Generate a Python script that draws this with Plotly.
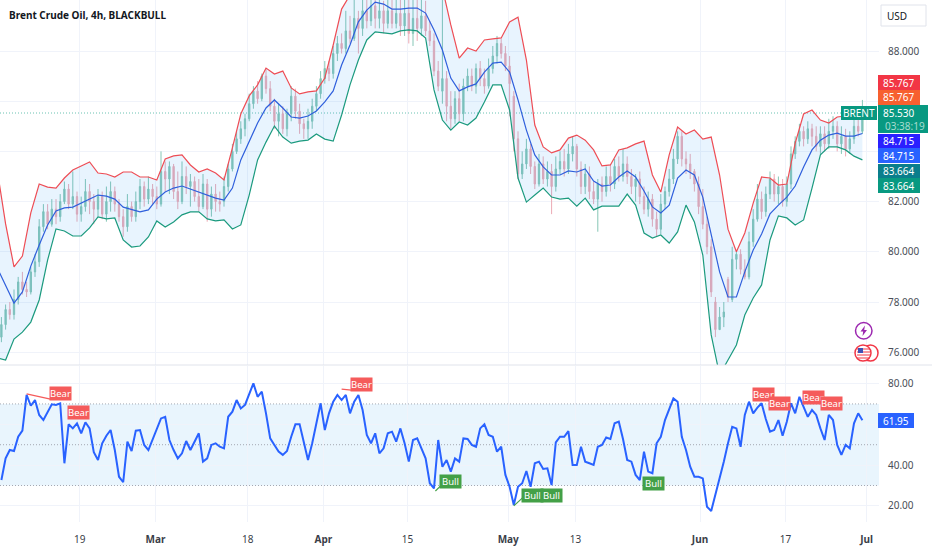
import plotly.graph_objects as go

WIDTH = 932
HEIGHT = 550
PLOT_RIGHT = 879
PANE_BOTTOM = 365
RSI_TOP = 366
RSI_BOTTOM = 522

# x is the 4h bar number, one bar is 1.4 px on the original time scale
candle_bars = list(range(1, 617, 3))
band_bars = list(range(-2, 617, 6))
tick_bars = [57, 111, 177, 231, 291, 363, 411, 500, 561, 619]
tick_labels = ["19", "<b>Mar</b>", "18", "<b>Apr</b>", "15", "<b>May</b>", "13", "<b>Jun</b>", "17", "<b>Jul</b>"]

price_ticks = [76, 78, 80, 82, 84, 86, 88]
price_tick_labels = ["76.000", "78.000", "80.000", "82.000", "", "", "88.000"]
rsi_ticks = [20, 40, 60, 80]
rsi_tick_labels = ["20.00", "40.00", "", "80.00"]

upper = [83.26, 81.11, 79.40, 79.83, 81.55, 82.70, 82.58, 82.54, 82.94, 83.26,
         83.42, 83.58, 83.14, 83.10, 82.98, 83.18, 83.18, 82.98, 82.98, 82.86,
         83.70, 83.82, 83.86, 83.46, 83.18, 83.30, 83.14, 82.86, 84.14, 85.49,
         86.21, 86.65, 87.32, 87.08, 87.20, 86.53, 86.29, 86.37, 86.41, 86.92,
         88.24, 89.67, 90.23, 90.43, 90.59, 90.75, 90.83, 90.83, 90.83, 90.83,
         90.83, 90.75, 90.75, 90.51, 89.04, 87.72, 88.12, 88.00, 88.44, 88.48,
         88.52, 89.16, 89.35, 87.64, 85.05, 84.18, 83.94, 84.06, 84.53, 84.65,
         84.45, 84.06, 83.42, 83.46, 84.06, 84.14, 84.30, 84.41, 83.06, 82.38,
         83.86, 84.97, 84.69, 84.85, 84.49, 84.57, 83.06, 80.90, 80.00, 80.75,
         81.94, 82.98, 82.94, 82.66, 82.70, 84.33, 85.49, 85.65, 85.25, 85.13,
         85.37, 85.41, 85.65, 85.767]
middle = [79.36, 78.64, 77.96, 78.40, 79.43, 80.27, 81.07, 81.63, 81.75, 81.78,
          81.94, 82.10, 82.26, 82.22, 82.10, 81.78, 81.67, 81.59, 81.67, 82.10,
          82.38, 82.54, 82.62, 82.50, 82.38, 82.26, 82.14, 82.06, 82.54, 83.66,
          84.41, 85.13, 85.73, 86.05, 85.73, 85.37, 85.33, 85.41, 85.61, 85.97,
          86.41, 87.44, 88.24, 89.16, 89.63, 89.95, 89.87, 89.67, 89.67, 89.71,
          89.71, 89.51, 88.84, 88.04, 86.92, 86.41, 86.57, 86.69, 87.16, 87.52,
          87.56, 87.16, 86.05, 84.85, 83.86, 83.38, 83.06, 83.06, 83.22, 83.18,
          83.30, 82.82, 82.62, 82.66, 82.98, 83.22, 82.98, 82.42, 81.79, 81.55,
          81.86, 82.94, 83.26, 83.06, 82.18, 80.67, 79.20, 78.20, 78.20, 79.20,
          80.07, 80.71, 81.51, 81.86, 82.18, 82.62, 83.38, 84.06, 84.45, 84.65,
          84.73, 84.61, 84.61, 84.715]
lower = [75.77, 75.69, 76.52, 76.80, 77.20, 78.08, 79.67, 80.91, 80.83, 80.63,
         80.63, 80.95, 81.39, 81.31, 81.35, 80.47, 80.19, 80.23, 80.59, 81.23,
         80.99, 81.19, 81.47, 81.59, 81.59, 81.31, 81.23, 81.27, 80.91, 81.07,
         82.26, 83.66, 84.37, 85.01, 84.57, 84.33, 84.41, 84.45, 84.69, 84.49,
         84.41, 85.45, 86.65, 87.64, 88.44, 88.76, 88.72, 88.68, 88.80, 88.84,
         88.80, 88.52, 86.45, 85.25, 84.85, 85.17, 85.05, 85.33, 85.97, 86.65,
         86.65, 85.65, 82.94, 81.98, 82.26, 82.54, 82.18, 82.10, 82.14, 81.82,
         82.14, 81.67, 81.82, 81.82, 81.82, 82.30, 81.86, 80.75, 80.55, 80.67,
         80.35, 80.79, 81.86, 81.19, 79.87, 76.69, 75.09, 75.69, 76.29, 77.48,
         78.16, 78.68, 80.47, 81.43, 81.35, 81.07, 81.27, 82.54, 83.86, 84.18,
         84.18, 84.06, 83.81, 83.664]

opens = [76.6, 77.1, 77.7, 77.5, 78.1, 78.8, 78.5, 78.4, 79.2, 79.6,
         81.0, 81.6, 81.1, 81.7, 81.4, 82.0, 82.5, 81.9, 82.2, 81.5,
         81.8, 82.4, 82.0, 81.7, 82.2, 81.5, 82.0, 82.4, 81.9, 81.4,
         81.0, 81.8, 81.4, 82.0, 82.6, 82.1, 82.5, 82.2, 81.9, 83.2,
         82.9, 83.4, 82.4, 82.0, 83.0, 82.6, 82.8, 82.2, 81.8, 82.7,
         81.7, 82.3, 82.0, 82.0, 82.6, 83.3, 84.0, 84.5, 84.9, 85.3,
         85.9, 86.4, 86.1, 87.0, 86.5, 85.8, 85.2, 85.5, 84.9, 85.5,
         86.2, 85.6, 85.1, 84.9, 85.2, 85.8, 86.3, 86.9, 87.3, 87.1,
         87.9, 88.3, 88.1, 88.8, 88.5, 89.3, 88.9, 89.6, 89.2, 89.8,
         89.3, 89.6, 89.1, 89.6, 89.1, 89.5, 89.0, 89.5, 88.7, 89.3,
         88.9, 89.4, 88.8, 88.4, 87.2, 86.4, 86.9, 85.8, 85.3, 86.1,
         85.5, 86.6, 87.0, 86.6, 87.3, 86.9, 86.6, 87.3, 87.8, 88.3,
         87.9, 87.4, 86.2, 84.5, 83.1, 83.5, 84.1, 83.4, 82.7, 83.5,
         82.9, 83.2, 82.6, 83.3, 83.6, 83.3, 83.9, 84.2, 83.3, 82.6,
         83.1, 82.4, 82.1, 82.7, 82.4, 83.0, 82.7, 83.4, 83.0, 83.5,
         83.0, 82.6, 82.9, 82.2, 81.7, 82.1, 81.3, 80.9, 81.9, 82.4,
         82.9, 83.7, 84.6, 83.7, 83.5, 83.2, 82.7, 81.8, 81.1, 80.2,
         78.0, 76.9, 77.4, 78.9, 78.1, 79.7, 79.9, 79.3, 79.0, 80.4,
         81.3, 82.1, 81.6, 82.3, 82.9, 82.3, 82.6, 82.0, 82.7, 83.9,
         84.4, 84.8, 84.5, 84.9, 84.6, 84.2, 84.7, 84.3, 84.8, 85.0,
         84.3, 84.6, 84.1, 84.5, 85.0, 84.8]
closes = [77.1, 77.7, 77.5, 78.1, 78.8, 78.5, 78.4, 79.2, 79.6, 81.0,
          81.6, 81.1, 81.7, 81.4, 82.0, 82.5, 81.9, 82.2, 81.5, 81.8,
          82.4, 82.0, 81.7, 82.2, 81.5, 82.0, 82.4, 81.9, 81.4, 81.0,
          81.8, 81.4, 82.0, 82.6, 82.1, 82.5, 82.2, 81.9, 83.2, 82.9,
          83.4, 82.4, 82.0, 83.0, 82.6, 82.8, 82.2, 81.8, 82.7, 81.7,
          82.3, 82.0, 81.9, 82.6, 83.3, 84.0, 84.5, 84.9, 85.3, 85.9,
          86.4, 86.1, 87.0, 86.5, 85.8, 85.2, 85.5, 84.9, 85.5, 86.2,
          85.6, 85.1, 84.9, 85.2, 85.8, 86.3, 86.9, 87.3, 87.1, 87.9,
          88.3, 88.1, 88.8, 88.5, 89.3, 88.9, 89.6, 89.2, 89.8, 89.3,
          89.6, 89.1, 89.6, 89.1, 89.5, 89.0, 89.5, 88.7, 89.3, 88.9,
          89.4, 88.8, 88.4, 87.2, 86.6, 86.9, 85.8, 85.3, 86.1, 85.5,
          86.6, 87.0, 86.6, 87.3, 86.9, 86.6, 87.3, 87.8, 88.3, 87.9,
          87.4, 86.7, 84.5, 83.1, 83.5, 84.1, 83.4, 82.7, 83.5, 82.9,
          83.2, 82.6, 83.3, 83.6, 83.3, 83.9, 84.2, 83.3, 82.6, 83.1,
          82.4, 82.1, 82.7, 82.4, 83.0, 82.7, 83.4, 83.0, 83.5, 83.0,
          82.6, 82.9, 82.2, 81.7, 82.1, 81.3, 80.9, 81.9, 82.4, 82.9,
          83.7, 84.6, 83.7, 83.5, 83.2, 82.7, 81.8, 81.1, 80.2, 78.4,
          76.9, 77.4, 77.6, 78.2, 79.7, 79.9, 79.3, 79.0, 80.4, 81.3,
          82.1, 81.6, 82.3, 82.9, 82.3, 82.6, 82.0, 82.7, 83.9, 84.4,
          84.8, 84.5, 84.9, 84.6, 84.2, 84.7, 84.3, 84.8, 85.0, 84.3,
          84.6, 84.1, 84.5, 85.0, 84.8, 85.53]
highs = [77.4, 77.9, 78.0, 78.5, 79.0, 79.2, 78.8, 79.4, 79.9, 81.3,
         81.9, 81.9, 82.1, 82.1, 82.3, 82.8, 82.7, 83.2, 82.4, 82.2,
         82.9, 82.7, 82.3, 82.5, 82.4, 82.6, 82.8, 82.6, 82.1, 81.7,
         82.3, 82.0, 82.4, 82.9, 82.8, 83.0, 82.7, 82.6, 84.0, 83.6,
         83.6, 83.5, 83.2, 83.6, 83.4, 83.1, 83.0, 82.9, 83.1, 82.9,
         82.6, 82.7, 82.4, 83.0, 83.5, 84.3, 84.8, 85.2, 85.5, 86.3,
         86.6, 86.8, 87.1, 87.3, 86.8, 86.1, 85.9, 85.8, 85.7, 86.6,
         86.5, 85.9, 85.3, 85.7, 86.1, 86.6, 87.2, 87.6, 87.6, 88.2,
         88.6, 88.7, 89.6, 89.4, 90.3, 89.6, 90.3, 90.3, 90.3, 90.2,
         90.2, 90.0, 90.2, 90.2, 90.3, 90.2, 90.3, 90.1, 90.2, 90.2,
         90.3, 90.0, 89.2, 88.7, 87.6, 90.1, 87.2, 86.4, 86.4, 86.7,
         86.9, 87.3, 87.3, 87.5, 87.6, 87.3, 87.7, 88.2, 88.6, 88.5,
         88.2, 87.8, 86.4, 84.8, 84.0, 84.5, 84.3, 83.6, 83.9, 83.8,
         83.6, 83.5, 83.8, 84.0, 84.1, 84.3, 84.6, 84.3, 83.6, 83.5,
         83.4, 82.8, 82.9, 83.0, 83.4, 83.5, 83.7, 83.8, 84.1, 83.8,
         83.3, 83.1, 83.2, 82.6, 82.4, 82.3, 81.6, 82.3, 82.6, 83.3,
         84.1, 84.8, 84.8, 84.0, 83.9, 83.3, 83.0, 82.5, 81.4, 80.5,
         78.2, 77.8, 78.0, 79.0, 80.2, 80.0, 80.1, 79.7, 80.8, 81.7,
         82.7, 82.4, 82.6, 83.2, 83.1, 83.0, 82.9, 83.0, 84.2, 84.6,
         85.1, 85.0, 85.2, 85.1, 85.0, 85.0, 85.0, 85.3, 85.4, 85.2,
         85.0, 84.9, 84.8, 85.4, 85.5, 86.05]
lows = [76.4, 76.9, 77.3, 77.3, 77.9, 78.3, 78.2, 78.3, 79.0, 79.4,
        80.8, 80.9, 81.0, 81.1, 81.2, 81.9, 81.7, 81.7, 81.2, 81.2,
        81.6, 81.5, 81.1, 81.4, 81.3, 81.2, 81.6, 81.6, 81.2, 80.6,
        80.8, 81.2, 81.2, 81.7, 81.8, 81.9, 81.9, 81.7, 81.8, 82.4,
        82.3, 82.1, 81.7, 81.9, 82.3, 81.8, 82.0, 81.6, 81.7, 81.2,
        81.4, 81.6, 81.6, 81.8, 82.4, 83.2, 83.9, 84.3, 84.6, 85.2,
        85.7, 85.9, 86.0, 86.3, 85.6, 84.9, 84.6, 84.7, 84.6, 85.2,
        85.3, 84.7, 84.5, 84.5, 84.9, 85.6, 86.1, 86.7, 86.8, 86.9,
        87.6, 87.9, 87.9, 88.3, 88.4, 87.9, 88.6, 88.9, 89.0, 88.9,
        88.9, 88.7, 88.9, 88.9, 88.9, 88.6, 88.6, 88.3, 88.2, 88.4,
        88.6, 88.6, 88.2, 87.0, 86.4, 85.9, 85.2, 84.9, 85.1, 85.2,
        85.2, 86.4, 86.4, 86.3, 86.6, 86.3, 86.5, 87.1, 87.5, 87.7,
        87.2, 85.4, 84.0, 82.9, 82.9, 83.3, 83.1, 82.5, 82.6, 82.7,
        82.6, 81.5, 82.4, 83.1, 83.0, 83.1, 83.6, 83.0, 82.3, 82.3,
        82.1, 81.9, 80.8, 82.0, 82.2, 82.4, 82.5, 82.8, 82.8, 82.7,
        82.3, 82.0, 81.9, 81.5, 81.4, 81.0, 80.6, 80.7, 81.7, 82.2,
        82.7, 83.5, 83.4, 83.1, 82.9, 82.4, 81.5, 80.9, 79.9, 78.2,
        76.6, 76.9, 77.0, 78.0, 78.0, 79.3, 79.1, 78.9, 78.9, 80.2,
        81.2, 81.3, 81.4, 82.1, 82.0, 81.9, 81.8, 81.8, 82.5, 83.7,
        84.2, 84.2, 84.3, 84.2, 84.0, 83.9, 84.0, 84.1, 84.5, 84.0,
        83.9, 83.8, 83.9, 84.3, 84.6, 84.7]

rsi = [32.7, 43.3, 47.4, 46.9, 53.9, 56.9, 74.4, 69.1, 71.9, 64.6,
       62.1, 66.2, 69.8, 69.5, 70.3, 40.9, 60.0, 58.0, 60.5, 55.6,
       61.0, 58.0, 46.3, 42.5, 50.7, 54.4, 57.2, 47.4, 34.3, 31.6,
       51.5, 46.9, 56.9, 57.2, 49.9, 47.4, 52.3, 57.2, 62.9, 63.7,
       52.3, 47.4, 43.3, 45.8, 51.8, 47.4, 51.5, 55.6, 41.7, 43.3,
       49.9, 50.7, 49.0, 48.2, 63.7, 66.2, 71.9, 67.8, 69.5, 74.4,
       80.1, 73.5, 76.0, 65.4, 53.1, 49.9, 46.6, 45.0, 46.9, 53.9,
       60.0, 60.0, 50.7, 42.5, 50.7, 61.3, 70.3, 57.2, 65.4, 71.1,
       74.4, 71.9, 74.4, 65.4, 71.1, 74.4, 67.0, 54.8, 50.7, 55.6,
       45.8, 48.2, 55.6, 56.4, 51.5, 58.0, 50.7, 41.7, 52.3, 53.1,
       48.2, 43.3, 31.1, 28.6, 52.3, 39.2, 42.5, 36.8, 43.3, 41.7,
       53.1, 52.8, 49.9, 49.0, 58.0, 60.0, 54.8, 53.9, 46.6, 49.0,
       35.2, 29.4, 20.4, 29.4, 31.1, 37.1, 29.4, 40.9, 41.7, 38.1,
       38.4, 30.2, 51.2, 53.9, 53.9, 56.7, 40.1, 40.1, 49.0, 41.7,
       40.9, 40.1, 49.0, 49.9, 53.5, 52.8, 60.5, 61.3, 52.8, 42.5,
       41.7, 35.2, 32.7, 46.6, 36.8, 36.0, 50.7, 53.9, 62.1, 67.8,
       72.7, 71.1, 53.9, 47.4, 39.2, 34.3, 34.3, 33.5, 19.6, 17.5,
       25.3, 33.5, 41.7, 50.7, 58.8, 58.0, 49.0, 64.6, 71.1, 65.4,
       68.2, 70.3, 62.6, 56.4, 57.2, 62.1, 54.4, 61.3, 70.3, 65.4,
       73.5, 68.6, 63.7, 67.0, 64.6, 58.0, 52.3, 64.6, 62.1, 49.9,
       45.0, 49.9, 48.2, 60.5, 65.4, 61.95]

bear_bars = [43, 56, 258, 545, 557, 581, 594]
bear_rsi = [74.9, 65.8, 79.3, 74.6, 70.4, 73.1, 70.0]
bull_bars = [322, 380, 394, 467]
bull_rsi = [32.2, 24.9, 25.1, 31.0]

bear_line_bars = [[19, 36], [244, 251]]
bear_line_rsi = [[74.9, 72.4], [77.3, 76.8]]
bull_line_bars = [[311, 316], [367, 374]]
bull_line_rsi = [[27.3, 30.7], [20.0, 24.4]]

last_price = 85.53

FONT = "Noto Sans"
GREEN = "#089981"
BLUE = "#2962ff"
GRID = "#f0f3fa"


def px(x):
    return x / WIDTH


def py(y):
    return 1 - y / HEIGHT


fig = go.Figure()

fig.add_trace(go.Candlestick(
    x=candle_bars, open=opens, high=highs, low=lows, close=closes,
    increasing=dict(line=dict(color="#86c6b6", width=1), fillcolor="#86c6b6"),
    decreasing=dict(line=dict(color="#ecaab4", width=1), fillcolor="#ecaab4"),
    hoverinfo="skip",
))

# Bollinger bands
fig.add_trace(go.Scatter(x=band_bars, y=upper, mode="lines", line=dict(color="#ee4d55", width=1.2)))
fig.add_trace(go.Scatter(x=band_bars, y=lower, mode="lines", line=dict(color="#1b9a7e", width=1.2),
                         fill="tonexty", fillcolor="rgba(33,150,243,0.1)"))
fig.add_trace(go.Scatter(x=band_bars, y=middle, mode="lines", line=dict(color="#2f5fdc", width=1.2)))

# RSI pane
fig.add_trace(go.Scatter(x=candle_bars, y=rsi, mode="lines", yaxis="y2", line=dict(color=BLUE, width=2)))
for bars, vals in zip(bear_line_bars, bear_line_rsi):
    fig.add_trace(go.Scatter(x=bars, y=vals, mode="lines", yaxis="y2", line=dict(color="#f55b5b", width=1.2)))
for bars, vals in zip(bull_line_bars, bull_line_rsi):
    fig.add_trace(go.Scatter(x=bars, y=vals, mode="lines", yaxis="y2", line=dict(color="#43a047", width=1.2)))

# RSI band and levels
fig.add_shape(type="rect", xref="x domain", yref="y2", x0=0, x1=1, y0=30, y1=70,
              fillcolor="#e3f2fd", opacity=0.8, line_width=0, layer="below")
for level in [70, 50, 30]:
    fig.add_shape(type="line", xref="x domain", yref="y2", x0=0, x1=1, y0=level, y1=level,
                  line=dict(color="#a4a8b2", width=1, dash="1px,2px"), layer="below")

# Last price line
fig.add_shape(type="line", xref="x domain", yref="y", x0=0, x1=1, y0=last_price, y1=last_price,
              line=dict(color="rgba(8,153,129,0.6)", width=1, dash="1px,2px"), layer="below")

# Pane divider
fig.add_shape(type="line", xref="paper", yref="paper", x0=0, x1=1, y0=py(PANE_BOTTOM), y1=py(PANE_BOTTOM),
              line=dict(color="#e0e3eb", width=1))


def add_signal(x, y, text, color):
    fig.add_annotation(x=x, y=y, xref="x", yref="y2", text=text, showarrow=False,
                       bgcolor=color, width=21, height=13, borderpad=0,
                       font=dict(family=FONT, size=9.5, color="white"))


for x, y in zip(bear_bars, bear_rsi):
    add_signal(x, y, "Bear", "#f55b5b")
for x, y in zip(bull_bars, bull_rsi):
    add_signal(x, y, "Bull", "#43a047")


def add_label(x, y, text, size=10, color="white", xanchor="center"):
    fig.add_annotation(x=px(x), y=py(y), xref="paper", yref="paper", text=text, showarrow=False,
                       xanchor=xanchor, yanchor="middle",
                       font=dict(family=FONT, size=size, color=color))


def add_tag(x0, x1, y0, y1, color, text):
    fig.add_shape(type="rect", xref="paper", yref="paper", x0=px(x0), x1=px(x1), y0=py(y0), y1=py(y1),
                  fillcolor=color, line_width=0, layer="above")
    if text:
        add_label((x0 + x1) / 2, (y0 + y1) / 2, text)


add_tag(878, 920, 75, 90, "#f23645", "85.767")
add_tag(878, 920, 90, 105, "#f7602f", "85.767")
add_tag(878, 928, 105, 133, GREEN, "")
add_label(899, 113, "85.530")
add_label(905, 126, "03:38:19", color="#a6dcd0")
add_tag(841, 877, 106, 120, GREEN, "BRENT")
add_tag(878, 920, 134, 148, "#2a20ff", "84.715")
add_tag(878, 920, 148, 163, BLUE, "84.715")
add_tag(878, 920, 164, 178, "#0a7e8c", "83.664")
add_tag(878, 920, 178, 193, GREEN, "83.664")
add_tag(878, 914, 413, 428, BLUE, "61.95")

# USD box
fig.add_shape(type="rect", xref="paper", yref="paper", x0=px(881), x1=px(926), y0=py(5), y1=py(26),
              line=dict(color="#e0e3eb", width=1), fillcolor="white")
add_label(897, 15.5, "USD", color="#131722")

# Title
add_label(7, 15, "<b>Brent Crude Oil, 4h, BLACKBULL</b>", color="#131722", xanchor="left")

# Event icons
fig.add_shape(type="circle", xref="paper", yref="paper", x0=px(855.5), x1=px(872), y0=py(322.5), y1=py(339),
              line=dict(color="#9c27b0", width=1.5), fillcolor="white")
bolt = "M {} {} L {} {} L {} {} L {} {} L {} {} L {} {} Z".format(
    px(865), py(325.5), px(860.5), py(331.5), px(863.2), py(331.5),
    px(862.5), py(336), px(867), py(330), px(864.2), py(330))
fig.add_shape(type="path", xref="paper", yref="paper", path=bolt, fillcolor="#9c27b0", line_width=0)
fig.add_shape(type="circle", xref="paper", yref="paper", x0=px(863), x1=px(878), y0=py(345), y1=py(361),
              line=dict(color="#f23645", width=1.5), fillcolor="white")
fig.add_shape(type="circle", xref="paper", yref="paper", x0=px(855), x1=px(871), y0=py(345), y1=py(361),
              line=dict(color="#f23645", width=1.5), fillcolor="white")
for stripe_y in [349, 352, 355, 358]:
    fig.add_shape(type="line", xref="paper", yref="paper", x0=px(857), x1=px(870), y0=py(stripe_y), y1=py(stripe_y),
                  line=dict(color="#f23645", width=1))
fig.add_shape(type="rect", xref="paper", yref="paper", x0=px(858), x1=px(863), y0=py(348), y1=py(353),
              fillcolor="#3f51b5", line_width=0)

fig.update_layout(
    width=WIDTH,
    height=HEIGHT,
    autosize=False,
    margin=dict(l=0, r=0, t=0, b=0),
    paper_bgcolor="white",
    plot_bgcolor="white",
    showlegend=False,
    hovermode=False,
    boxgap=0.55,
    font=dict(family=FONT, size=10, color="#4a4e58"),
    xaxis=dict(
        domain=[0, PLOT_RIGHT / WIDTH],
        range=[0, PLOT_RIGHT / 1.4],
        anchor="y2",
        rangeslider=dict(visible=False),
        tickmode="array",
        tickvals=tick_bars,
        ticktext=tick_labels,
        ticks="outside",
        ticklen=8,
        tickcolor="white",
        showgrid=True,
        gridcolor=GRID,
        zeroline=False,
        showline=False,
        tickfont=dict(family=FONT, size=10, color="#3a3e48"),
    ),
    yaxis=dict(
        domain=[py(PANE_BOTTOM), 1],
        range=[75.49, 90.032],
        side="right",
        anchor="x",
        tickmode="array",
        tickvals=price_ticks,
        ticktext=price_tick_labels,
        ticks="outside",
        ticklen=6,
        tickcolor="white",
        gridcolor=GRID,
        zeroline=False,
        showline=False,
    ),
    yaxis2=dict(
        domain=[py(RSI_BOTTOM), py(RSI_TOP)],
        range=[12.1, 88.6],
        side="right",
        anchor="x",
        tickmode="array",
        tickvals=rsi_ticks,
        ticktext=rsi_tick_labels,
        ticks="outside",
        ticklen=6,
        tickcolor="white",
        gridcolor=GRID,
        zeroline=False,
        showline=False,
    ),
)

# The page body has a default margin that would push the chart off the window
fig.write_html("out.html", config={"displayModeBar": False},
               post_script="document.body.style.margin='0';document.body.style.overflow='hidden';")
